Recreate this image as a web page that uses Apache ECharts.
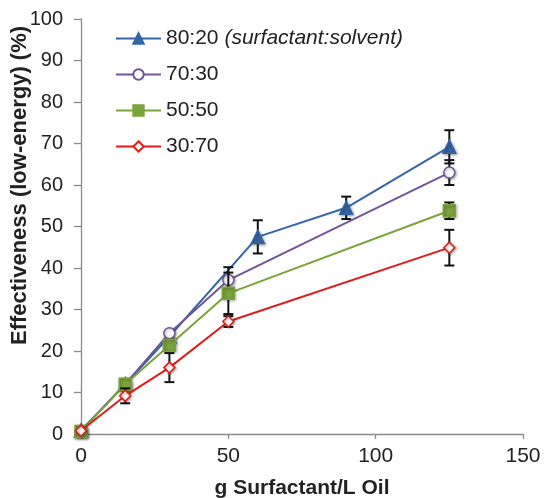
<!DOCTYPE html>
<html>
<head>
<meta charset="utf-8">
<script src="https://cdn.jsdelivr.net/npm/echarts@6/dist/echarts.min.js"></script>
<style>
  html, body { margin: 0; padding: 0; background: #fff; }
  #chart { width: 546px; height: 498px; }
</style>
</head>
<body>
<div id="chart"></div>
<script>
// g surfactant / L oil
const doseBlue = [0, 15, 30, 60, 90, 125];
const dose = [0, 15, 30, 50, 125];

// effectiveness (%) and error (+/-) per ratio
const eff8020 = [0.8, 12, 23.5, 47.5, 54.5, 69.2];
const err8020 = [0, 0, 0, 4, 2.7, 4];
const eff7030 = [0.8, 12, 24.3, 37.1, 63];
const err7030 = [0, 0, 0, 3.1, 3];
const eff5050 = [0.6, 12, 21.4, 33.9, 53.8];
const err5050 = [0, 0, 0, 5, 2];
const eff3070 = [0.8, 9.2, 16, 27.1, 44.9];
const err3070 = [0, 1.8, 3.5, 1.3, 4.3];

const ratios = ['80:20', '70:30', '50:50', '30:70'];
const yTicks = [0, 10, 20, 30, 40, 50, 60, 70, 80, 90, 100];
const xTicks = [0, 50, 100, 150];

const groups = [
  { name: ratios[0], x: doseBlue, y: eff8020, e: err8020, color: '#3466a5', symbol: 'triangle', size: 13, fill: '#3466a5' },
  { name: ratios[1], x: dose, y: eff7030, e: err7030, color: '#70559b', symbol: 'circle', size: 11, fill: '#fff' },
  { name: ratios[2], x: dose, y: eff5050, e: err5050, color: '#7ba33b', symbol: 'rect', size: 12, fill: '#7ba33b' },
  { name: ratios[3], x: dose, y: eff3070, e: err3070, color: '#e01b1b', symbol: 'diamond', size: 11, fill: '#fff' }
];

function renderErr(params, api) {
  const x = api.value(0);
  const top = api.coord([x, api.value(2)]);
  const bot = api.coord([x, api.value(1)]);
  const w = 5;
  const st = { stroke: '#111', lineWidth: 2 };
  return {
    type: 'group',
    children: [
      { type: 'line', shape: { x1: top[0], y1: top[1], x2: bot[0], y2: bot[1] }, style: st },
      { type: 'line', shape: { x1: top[0] - w, y1: top[1], x2: top[0] + w, y2: top[1] }, style: st },
      { type: 'line', shape: { x1: bot[0] - w, y1: bot[1], x2: bot[0] + w, y2: bot[1] }, style: st }
    ]
  };
}

const series = [];
groups.forEach((g, k) => {
  const errData = [];
  g.x.forEach((x, i) => {
    if (g.e[i] > 0) errData.push([x, g.y[i] - g.e[i], g.y[i] + g.e[i]]);
  });
  series.push({
    name: 'err ' + g.name,
    type: 'custom',
    renderItem: renderErr,
    encode: { x: 0, y: [1, 2] },
    data: errData,
    z: 2 + k * 2,
    silent: true
  });
  series.push({
    name: g.name,
    type: 'line',
    data: g.x.map((x, i) => [x, g.y[i]]),
    symbol: g.symbol,
    symbolSize: g.size,
    showAllSymbol: true,
    lineStyle: { color: g.color, width: 2 },
    itemStyle: {
      color: g.fill, borderColor: g.color, borderWidth: 1.5,
      shadowColor: 'rgba(0,0,0,0.35)', shadowBlur: 3, shadowOffsetX: 1, shadowOffsetY: 1
    },
    z: 3 + k * 2,
    animation: false
  });
});

const chart = echarts.init(document.getElementById('chart'));
chart.setOption({
  animation: false,
  textStyle: { fontFamily: 'Liberation Sans, Arial, sans-serif' },
  grid: { left: 81, right: 23, top: 19, bottom: 64, containLabel: false, outerBoundsMode: 'none' },
  legend: {
    data: ratios,
    orient: 'vertical',
    left: 110,
    top: 23,
    itemWidth: 45,
    itemHeight: 13,
    itemGap: 15,
    selectedMode: false,
    formatter: n => n === ratios[0] ? n + ' {i|(surfactant:solvent)}' : n,
    textStyle: {
      fontSize: 21, color: '#222',
      rich: { i: { fontSize: 21, fontStyle: 'italic', color: '#222' } }
    }
  },
  xAxis: {
    type: 'value',
    min: xTicks[0],
    max: xTicks[xTicks.length - 1],
    interval: 50,
    name: 'g Surfactant/L Oil',
    nameLocation: 'middle',
    nameGap: 44,
    nameMoveOverlap: false,
    nameTextStyle: { fontSize: 21, fontWeight: 'bold', color: '#222' },
    axisLine: { lineStyle: { color: '#8a8a8a', width: 1.3 } },
    axisTick: { length: 5, lineStyle: { color: '#8a8a8a', width: 1.3 } },
    axisLabel: { fontSize: 21, color: '#222', margin: 12 },
    splitLine: { show: false }
  },
  yAxis: {
    type: 'value',
    min: yTicks[0],
    max: yTicks[yTicks.length - 1],
    interval: 10,
    name: 'Effectiveness (low-energy) (%)',
    nameLocation: 'middle',
    nameGap: 50,
    nameMoveOverlap: false,
    nameTextStyle: { fontSize: 22, fontWeight: 'bold', color: '#222', padding: [0, 0, 0, 82] },
    axisLine: { show: true, lineStyle: { color: '#8a8a8a', width: 1.3 } },
    axisTick: { show: true, length: 7, lineStyle: { color: '#8a8a8a', width: 1.3 } },
    axisLabel: { fontSize: 20, color: '#222', margin: 18 },
    splitLine: { show: false }
  },
  series: series
});
</script>
</body>
</html>
